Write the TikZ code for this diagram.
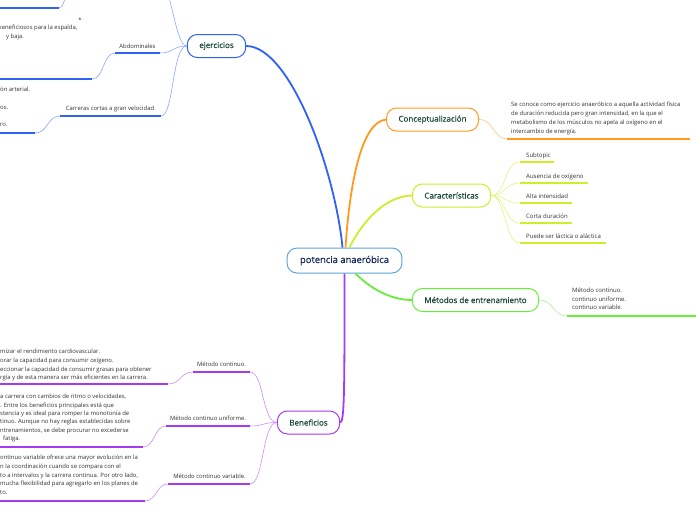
\documentclass[tikz,border=0pt]{standalone}
\usepackage{fontspec}
\setmainfont{Open Sans}
\newfontface\topicface{Open Sans}[FakeBold=0.45]
\usepackage{xcolor}
\usetikzlibrary{positioning}
\definecolor{centreline}{HTML}{5DA5DA}
\definecolor{centretext}{HTML}{13285A}
\definecolor{topictext}{HTML}{1B4A36}
\definecolor{smalltext}{HTML}{333333}
\definecolor{blueb}{HTML}{2F62F5}
\definecolor{bluet}{HTML}{8AA8FF}
\definecolor{orangeb}{HTML}{FF9A1F}
\definecolor{oranget}{HTML}{FFC680}
\definecolor{limeb}{HTML}{CDEF2A}
\definecolor{limet}{HTML}{E2F585}
\definecolor{greenb}{HTML}{66EE3A}
\definecolor{greent}{HTML}{A8F590}
\definecolor{purpleb}{HTML}{A63AF0}
\definecolor{purplet}{HTML}{CC90F8}

\begin{document}
\begin{tikzpicture}[x=1pt, y=-1pt,
    topic/.style={rectangle, draw, rounded corners=10pt, line width=1pt,
      fill=white, inner xsep=12pt, minimum height=23pt,
      text=topictext, font=\topicface\fontsize{8}{9}\selectfont},
    branch/.style={line width=1.8pt},
    twig/.style={line width=0.6pt},
    uline/.style={line width=2pt},
    subtxt/.style={inner sep=0pt, anchor=base, text=smalltext,
      font=\fontsize{5.9}{7}\selectfont},
    blurb/.style={inner sep=0pt, anchor=north west, align=left,
      text=smalltext, font=\fontsize{5.9}{8.7}\selectfont}]
  \useasboundingbox[fill=white] (0,0) rectangle (696,520);

  \node[topic, draw=centreline, text=centretext, minimum height=25pt,
    inner xsep=13pt, font=\topicface\fontsize{9.4}{10}\selectfont] (pot) at (344.5,260.5) {potencia anaeróbica};
  \node[topic, draw=blueb]   (ejer)   at (216.5,46)    {ejercicios};
  \node[topic, draw=orangeb] (concep) at (432.5,119.5) {Conceptualización};
  \node[topic, draw=limeb]   (caract) at (451.5,195.5) {Características};
  \node[topic, draw=greenb]  (metod)  at (475.5,300)   {Métodos de entrenamiento};
  \node[topic, draw=purpleb] (benef)  at (308.5,422.5) {Beneficios};

  \draw[branch, blueb]   (ejer.east) .. controls (290,46) and (335,170) .. ([xshift=-2pt]pot.north);
  \draw[branch, orangeb] (concep.west) .. controls (362,122) and (350,180) .. ([xshift=1pt]pot.north);
  \draw[branch, limeb]   (caract.west) .. controls (385,196) and (362,222) .. ([xshift=5pt]pot.north);
  \draw[branch, greenb]  ([xshift=11pt]pot.south) .. controls (372,290) and (392,300) .. (metod.west);
  \draw[branch, purpleb] (pot.south) .. controls (344.5,390) and (344.5,422.5) .. (benef.east);

  % ejercicios
  \coordinate (ej-up) at (145,-70);
  \coordinate (abd-l) at (115,53);
  \coordinate (abd-r) at (160,53);
  \coordinate (car-l) at (60,116);
  \coordinate (car-r) at (161,116);
  \coordinate (tl-l)  at (-5,8);
  \coordinate (tl-r)  at (59,8);
  \coordinate (tl-up) at (90,-30);
  \coordinate (ab-e)  at (-5,79);
  \coordinate (ab-b)  at (92,79);
  \coordinate (ca-e)  at (-5,133);
  \coordinate (ca-b)  at (35,133);
  \draw[twig, bluet] (ejer.west) .. controls (174,46) and (170,-30) .. (ej-up);
  \draw[twig, bluet] (ejer.west) .. controls (172,46) and (174,53) .. (abd-r);
  \draw[twig, bluet] (ejer.west) .. controls (172,46) and (174,116) .. (car-r);
  \draw[twig, bluet] (tl-r) .. controls (67,8) and (66,-30) .. (tl-up);
  \draw[twig, bluet] (ab-b) .. controls (104,79) and (103,53) .. (abd-l);
  \draw[twig, bluet] (ca-b) .. controls (48,133) and (47,116) .. (car-l);
  \draw[uline, blueb] (abd-l) -- (abd-r);
  \draw[uline, blueb] (car-l) -- (car-r);
  \draw[uline, blueb] (tl-l) -- (tl-r);
  \draw[uline, blueb] (ab-e) -- (ab-b);
  \draw[uline, blueb] (ca-e) -- (ca-b);
  \node[subtxt] (abd)  at (137.5,48.5) {Abdominales};
  \node[subtxt] (carr) at (110,110.5)  {Carreras cortas a gran velocidad};
  \node[subtxt, font=\fontsize{6}{7}\selectfont] (ab-star) at (80,22) {*};
  \node[blurb, font=\fontsize{5.9}{9}\selectfont] (ab-txt) at (-2,25)
    {beneficiosos para la espalda,\\\hspace*{8pt}y baja.};
  \node[blurb] (ca-txt) at (0,87)
    {ón arterial.\\[8.6pt]os.\\[8.6pt]ro.};

  % Beneficios
  \coordinate (mc-l) at (193,372);
  \coordinate (mc-r) at (250,372);
  \coordinate (mu-l) at (166,426);
  \coordinate (mu-r) at (250,426);
  \coordinate (mv-l) at (168,484);
  \coordinate (mv-r) at (250,484);
  \coordinate (mc-e) at (-5,384);
  \coordinate (mc-b) at (168,384);
  \coordinate (mu-e) at (-5,447);
  \coordinate (mu-b) at (143,447);
  \coordinate (mv-e) at (-5,501);
  \coordinate (mv-b) at (145,501);
  \draw[twig, purplet] (benef.west) .. controls (262,422.5) and (264,372) .. (mc-r);
  \draw[twig, purplet] (benef.west) .. controls (262,422.5) and (264,426) .. (mu-r);
  \draw[twig, purplet] (benef.west) .. controls (262,422.5) and (264,484) .. (mv-r);
  \draw[twig, purplet] (mc-b) .. controls (181,384) and (180,372) .. (mc-l);
  \draw[twig, purplet] (mu-b) .. controls (155,447) and (154,426) .. (mu-l);
  \draw[twig, purplet] (mv-b) .. controls (157,501) and (156,484) .. (mv-l);
  \draw[uline, purpleb] (mc-l) -- (mc-r);
  \draw[uline, purpleb] (mu-l) -- (mu-r);
  \draw[uline, purpleb] (mv-l) -- (mv-r);
  \draw[uline, purpleb] (mc-e) -- (mc-b);
  \draw[uline, purpleb] (mu-e) -- (mu-b);
  \draw[uline, purpleb] (mv-e) -- (mv-b);
  \node[subtxt] (mc) at (221.5,366.5) {Método continuo.};
  \node[subtxt] (mu) at (208,420.5)   {Método continuo uniforme.};
  \node[subtxt] (mv) at (209.5,478.5) {Método continuo variable.};
  \node[blurb] (mc-txt) at (0,349)
    {mizar el rendimiento cardiovascular.\\
     orar la capacidad para consumir oxígeno.\\
     eccionar la capacidad de consumir grasas para obtener\\
     rgía y de esta manera ser más eficientes en la carrera.};
  \node[blurb, font=\fontsize{5.9}{8.4}\selectfont] (mu-txt) at (0,394)
    {a carrera con cambios de ritmo o velocidades,\\
     . Entre los beneficios principales está que\\
     stencia y es ideal para romper la monotonía de\\
     tinuo. Aunque no hay reglas establecidas sobre\\
     ntrenamientos, se debe procurar no excederse\\
     \hspace*{3pt}fatiga.};
  \node[blurb, font=\fontsize{5.9}{8.75}\selectfont] (mv-txt) at (0,455)
    {ontinuo variable ofrece una mayor evolución en la\\
     n la coordinación cuando se compara con el\\
     to a intervalos y la carrera continua. Por otro lado,\\
     mucha flexibilidad para agregarlo en los planes de\\
     to.};

  % right side
  \coordinate (cp-a) at (507,139);
  \coordinate (cp-b) at (690,139);
  \draw[twig, oranget] (concep.east) .. controls (494,119.5) and (493,139) .. (cp-a);
  \draw[uline, orangeb] (cp-a) -- (cp-b);
  \node[blurb, font=\fontsize{5.9}{9}\selectfont] (cp-txt) at (511,101.5)
    {Se conoce como ejercicio anaeróbico a aquella actividad física\\
     de duración reducida pero gran intensidad, en la que el\\
     metabolismo de los músculos no apela al oxígeno en el\\
     intercambio de energía.};

  \coordinate (ct1-a) at (520,162);
  \coordinate (ct1-b) at (554,162);
  \coordinate (ct2-a) at (520,183);
  \coordinate (ct2-b) at (588,183);
  \coordinate (ct3-a) at (520,203);
  \coordinate (ct3-b) at (572,203);
  \coordinate (ct4-a) at (520,223);
  \coordinate (ct4-b) at (572,223);
  \coordinate (ct5-a) at (520,243);
  \coordinate (ct5-b) at (606,243);
  \draw[twig, limet] (caract.east) .. controls (506,195.5) and (504,162) .. (ct1-a);
  \draw[twig, limet] (caract.east) .. controls (506,195.5) and (504,183) .. (ct2-a);
  \draw[twig, limet] (caract.east) .. controls (506,195.5) and (504,203) .. (ct3-a);
  \draw[twig, limet] (caract.east) .. controls (506,195.5) and (504,223) .. (ct4-a);
  \draw[twig, limet] (caract.east) .. controls (506,195.5) and (504,243) .. (ct5-a);
  \draw[uline, limeb] (ct1-a) -- (ct1-b);
  \draw[uline, limeb] (ct2-a) -- (ct2-b);
  \draw[uline, limeb] (ct3-a) -- (ct3-b);
  \draw[uline, limeb] (ct4-a) -- (ct4-b);
  \draw[uline, limeb] (ct5-a) -- (ct5-b);
  \node[subtxt, anchor=base west, font=\fontsize{6}{7}\selectfont] (ct1) at (526,157.5) {Subtopic};
  \node[subtxt, anchor=base west, font=\fontsize{6}{7}\selectfont] (ct2) at (526,178)   {Ausencia de oxígeno};
  \node[subtxt, anchor=base west, font=\fontsize{6}{7}\selectfont] (ct3) at (526,198)   {Alta intensidad};
  \node[subtxt, anchor=base west, font=\fontsize{6}{7}\selectfont] (ct4) at (526,218)   {Corta duración};
  \node[subtxt, anchor=base west, font=\fontsize{6}{7}\selectfont] (ct5) at (526,238)   {Puede ser láctica o aláctica};

  \coordinate (mt-a) at (567,316);
  \coordinate (mt-b) at (700,316);
  \draw[twig, greent] (metod.east) .. controls (554,300) and (553,316) .. (mt-a);
  \draw[uline, greenb] (mt-a) -- (mt-b);
  \node[blurb, font=\fontsize{6}{8.5}\selectfont] (mt-txt) at (572,288)
    {Método continuo.\\continuo uniforme.\\continuo variable.};
\end{tikzpicture}
\end{document}
